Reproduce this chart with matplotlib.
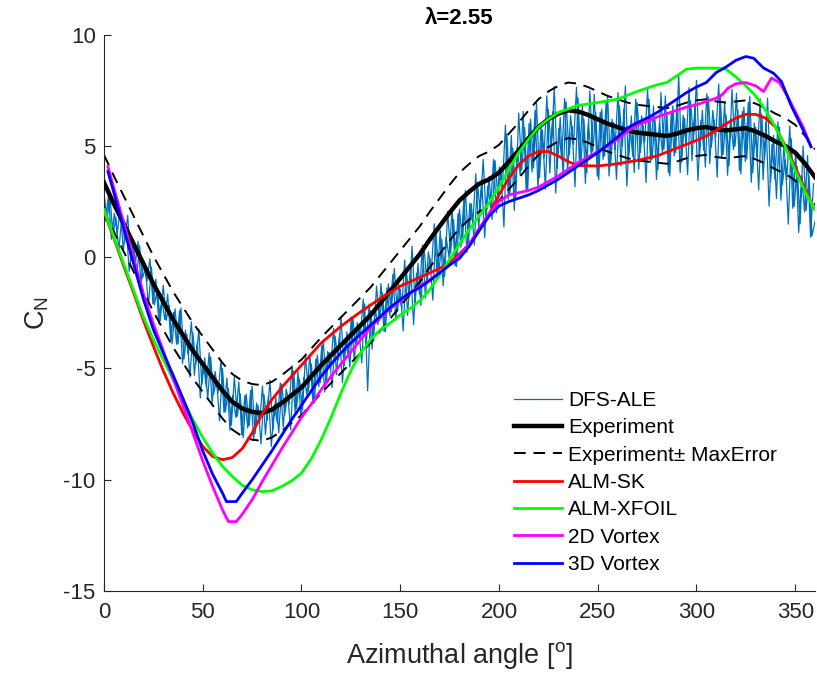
import numpy as np
import matplotlib
matplotlib.use("Agg")
import matplotlib.pyplot as plt

plt.rcParams['font.family'] = ['Liberation Sans', 'DejaVu Sans']
plt.rcParams['mathtext.fontset'] = 'custom'
plt.rcParams['mathtext.rm'] = 'Liberation Sans'
plt.rcParams['mathtext.it'] = 'Liberation Sans:italic'
plt.rcParams['mathtext.bf'] = 'Liberation Sans:bold'
plt.rcParams['axes.unicode_minus'] = False

# ---------------- data ----------------
TITLE = "\u03bb=2.55"
X_LABEL = "Azimuthal angle [$^\\mathrm{o}$]"
Y_LABEL = "C$_\\mathrm{N}$"
X_TICKS = [0, 50, 100, 150, 200, 250, 300, 350]
Y_TICKS = [-15, -10, -5, 0, 5, 10]
LABELS = ["DFS-ALE", "Experiment", "Experiment\u00b1 MaxError", "ALM-SK",
          "ALM-XFOIL", "2D Vortex", "3D Vortex"]

# DFS-ALE (noisy signal): samples at 0, 1.5, 3, ... 360 deg
DFS_ALE = [
    2.94, 1.62, 2.84, 0.94, 1.80, 0.26, 1.84, 0.68, 1.88, -0.20, 0.68, -0.92,
    0.52, -0.92, -0.54, -2.17, -0.44, -2.14, -1.42, -2.86, -1.26, -2.83, -2.16, -3.89,
    -2.32, -3.90, -2.28, -4.57, -3.48, -5.39, -3.40, -4.81, -3.22, -5.73, -4.52, -6.40,
    -4.48, -6.15, -5.50, -7.35, -5.00, -6.95, -5.90, -7.55, -5.36, -7.15, -6.14, -8.11,
    -6.15, -7.58, -5.80, -7.93, -6.66, -8.39, -6.18, -7.35, -5.52, -7.77, -6.28, -7.89,
    -5.70, -7.08, -6.16, -7.74, -5.12, -6.80, -5.48, -6.86, -4.44, -6.02, -4.80, -6.55,
    -4.40, -5.64, -3.72, -5.70, -4.28, -5.86, -3.54, -4.62, -2.70, -4.88, -3.36, -4.94,
    -2.72, -4.10, -3.18, -4.75, -2.10, -6.00, -2.40, -3.75, -1.30, -2.85, -1.60, -3.35,
    -1.20, -2.45, -0.50, -2.45, -1.42, -3.31, -0.52, -1.81, 0.50, -2.11, -0.28, -2.17,
    0.50, -1.15, -0.04, -1.93, 1.22, -0.79, 0.80, -0.85, 2.06, 0.18, 1.68, -0.42,
    2.16, 0.66, 3.00, 0.66, 2.40, 0.54, 3.36, 2.09, 4.40, 1.79, 3.62, 1.70,
    4.34, 2.66, 3.90, 1.36, 5.54, 2.84, 4.90, 2.65, 6.48, 3.91, 5.82, 2.93,
    6.20, 4.01, 6.92, 3.58, 5.72, 3.06, 6.64, 4.75, 7.66, 4.01, 6.28, 3.59,
    6.98, 4.60, 5.88, 3.16, 7.16, 4.28, 6.20, 3.80, 7.48, 4.76, 6.52, 3.48,
    6.65, 4.55, 7.25, 4.10, 6.05, 3.50, 6.80, 5.00, 7.70, 4.25, 6.35, 3.80,
    6.95, 4.70, 5.90, 3.35, 7.10, 4.40, 6.20, 3.95, 7.40, 4.85, 6.50, 3.65,
    6.80, 4.70, 8.20, 4.27, 6.24, 3.71, 7.03, 5.25, 7.95, 4.50, 6.60, 4.05,
    7.20, 4.95, 6.15, 3.60, 7.33, 4.61, 6.39, 4.12, 7.55, 4.98, 6.61, 3.74,
    6.74, 4.42, 7.24, 3.82, 5.84, 3.02, 6.42, 4.39, 7.15, 3.36, 5.48, 2.64,
    5.84, 3.27, 4.38, 1.49, 5.32, 2.28, 4.08, 1.50, 5.00, 2.10, 3.68, 0.95,
    1.60,
]
# DFS-ALE samples in between: 0.75, 2.25, ... 359.25 deg
DFS_ALE_MID = [
    1.64, 2.79, 0.81, 1.97, 1.07, 2.25, 0.30, 1.44, -0.64, 0.56, -0.40, 0.72,
    -1.20, -0.17, -1.08, -0.07, -2.09, -0.98, -2.98, -1.86, -2.80, -1.66, -3.71, -2.47,
    -3.91, -2.39, -4.78, -3.28, -4.39, -2.90, -5.31, -3.82, -6.33, -4.73, -5.81, -4.29,
    -6.57, -5.13, -6.08, -4.63, -6.98, -5.43, -7.78, -6.21, -7.21, -5.60, -7.98, -6.23,
    -7.67, -5.99, -8.22, -6.55, -7.48, -5.79, -7.97, -6.24, -8.50, -6.63, -7.44, -5.65,
    -7.64, -5.92, -6.60, -4.88, -6.96, -5.14, -7.22, -5.40, -6.18, -4.36, -6.53, -4.58,
    -5.82, -3.98, -6.06, -4.24, -5.02, -3.20, -5.28, -3.46, -5.64, -3.72, -4.50, -2.68,
    -4.66, -2.94, -3.62, -1.88, -3.95, -2.10, -4.13, -2.28, -3.03, -1.18, -3.33, -1.38,
    -2.63, -0.78, -2.83, -1.22, -2.31, -0.12, -2.61, -0.42, -3.03, -0.72, -1.65, 0.54,
    -1.83, 0.24, -0.57, 1.50, -0.99, 1.21, -1.28, 0.91, -0.02, 2.19, -0.39, 1.95,
    0.45, 2.67, 0.21, 2.43, 1.53, 3.75, 1.29, 3.49, 0.88, 3.19, 2.24, 4.40,
    2.00, 4.06, 3.19, 5.93, 2.59, 5.47, 2.10, 4.97, 3.68, 6.55, 3.02, 6.01,
    3.83, 6.59, 3.09, 5.85, 4.47, 7.25, 3.78, 6.53, 2.88, 5.79, 4.38, 7.13,
    3.79, 6.36, 5.08, 7.64, 4.12, 6.84, 3.32, 6.04, 4.60, 7.32, 3.64, 6.52,
    4.40, 6.95, 3.65, 6.20, 4.85, 7.40, 4.10, 6.65, 3.20, 5.90, 4.55, 7.10,
    3.95, 6.35, 5.15, 7.55, 4.25, 6.80, 3.50, 6.05, 4.70, 7.25, 3.80, 6.55,
    4.55, 7.10, 3.81, 6.38, 5.05, 7.62, 4.34, 6.90, 3.45, 6.15, 4.80, 7.35,
    4.20, 6.60, 5.40, 7.79, 4.47, 7.00, 3.68, 6.21, 4.84, 7.37, 3.90, 6.55,
    4.30, 6.95, 3.37, 6.03, 4.51, 7.12, 3.49, 6.09, 2.30, 5.06, 3.50, 6.08,
    2.56, 4.95, 3.50, 5.89, 2.20, 4.78, 1.11, 3.65, 2.03, 4.57, 0.90, 3.30,
]

# Experiment (mean), every 5 deg
EXP_X = list(range(0, 361, 5))
EXP_Y = [3.35, 2.4, 1.5, 0.6, -0.3, -1.2, -2.0, -2.8, -3.5, -4.2,
         -4.8, -5.4, -6.0, -6.5, -6.8, -6.95, -7.0, -6.85, -6.55, -6.2,
         -5.85, -5.35, -4.85, -4.4, -3.95, -3.5, -3.05, -2.6, -2.05, -1.5,
         -0.95, -0.4, 0.15, 0.8, 1.4, 2.0, 2.55, 2.95, 3.3, 3.5,
         3.8, 4.3, 4.8, 5.35, 5.85, 6.2, 6.45, 6.6, 6.55, 6.4,
         6.2, 6.0, 5.85, 5.7, 5.6, 5.55, 5.5, 5.45, 5.55, 5.7,
         5.8, 5.85, 5.75, 5.7, 5.75, 5.8, 5.65, 5.45, 5.2, 5.0,
         4.7, 4.2, 3.6]
MAX_ERROR = 1.25

SK_X = [0, 5, 10, 15, 20, 25, 30, 35, 40, 45, 50, 55, 60, 65, 70, 75, 80, 85, 90, 95,
        100, 110, 120, 130, 140, 150, 160, 170, 175, 180, 185, 190, 195, 200, 205, 210,
        215, 220, 225, 230, 235, 240, 250, 260, 270, 280, 290, 300, 305, 310, 315, 320,
        325, 330, 335, 340, 345, 350, 355, 360]
SK_Y = [2.05, 0.85, -0.4, -1.6, -2.85, -4.0, -5.1, -6.1, -7.0, -7.8, -8.5, -8.95, -9.1,
        -9.0, -8.6, -7.9, -7.05, -6.4, -5.85, -5.35, -4.85, -3.85, -3.1, -2.45, -1.85,
        -1.3, -0.9, -0.5, -0.25, 0.15, 0.6, 1.2, 1.95, 2.8, 3.55, 4.15, 4.55, 4.75, 4.75,
        4.55, 4.3, 4.12, 4.1, 4.2, 4.35, 4.55, 4.9, 5.25, 5.45, 5.7, 6.0, 6.25, 6.42,
        6.42, 6.25, 5.85, 5.0, 4.05, 3.05, 2.15]

XF_X = [0, 10, 20, 25, 30, 35, 40, 45, 50, 55, 60, 65, 70, 75, 80, 85, 90, 95, 100, 105,
        110, 115, 120, 125, 130, 135, 140, 145, 150, 155, 160, 165, 170, 175, 180, 185,
        190, 195, 200, 205, 210, 215, 220, 225, 230, 240, 250, 260, 270, 280, 285, 290,
        295, 300, 310, 315, 320, 325, 330, 335, 340, 345, 350, 355, 360]
XF_Y = [2.13, -0.3, -2.7, -3.7, -4.6, -5.5, -6.4, -7.3, -8.1, -8.8, -9.4, -9.85, -10.25,
        -10.45, -10.53, -10.5, -10.3, -10.05, -9.7, -9.05, -8.2, -7.2, -6.1, -5.1, -4.3,
        -3.7, -3.25, -2.95, -2.6, -2.3, -1.95, -1.45, -0.8, -0.1, 0.6, 1.25, 1.85, 2.45,
        3.15, 3.95, 4.7, 5.3, 5.85, 6.2, 6.5, 6.82, 6.95, 7.1, 7.45, 7.75, 7.85, 8.15,
        8.45, 8.5, 8.5, 8.45, 8.1, 7.7, 7.25, 6.6, 5.85, 4.95, 3.9, 2.95, 2.15]

V2D_X = [2, 5, 10, 15, 20, 25, 30, 35, 40, 45, 50, 55, 60, 63, 67, 70, 75, 80, 85, 90,
         95, 100, 105, 110, 115, 120, 125, 130, 135, 140, 145, 150, 155, 160, 165, 170,
         175, 180, 185, 190, 195, 200, 205, 210, 215, 220, 225, 230, 235, 240, 245, 250,
         255, 260, 265, 270, 275, 280, 285, 290, 295, 300, 305, 310, 313, 316, 320, 325,
         330, 334, 338, 342, 346, 350, 354, 358]
V2D_Y = [4.07, 3.1, 1.55, -0.05, -1.65, -3.0, -4.2, -5.45, -6.65, -7.9, -9.15, -10.3,
         -11.35, -11.88, -11.88, -11.55, -10.9, -10.1, -9.35, -8.6, -7.9, -7.2, -6.6,
         -5.95, -5.35, -4.8, -4.25, -3.7, -3.15, -2.7, -2.3, -1.95, -1.6, -1.3, -1.0,
         -0.7, -0.35, 0.05, 0.6, 1.3, 1.95, 2.5, 2.8, 2.9, 3.0, 3.15, 3.4, 3.65, 3.95,
         4.25, 4.5, 4.75, 5.0, 5.3, 5.65, 5.95, 6.1, 6.3, 6.45, 6.6, 6.75, 6.85, 7.0,
         7.15, 7.3, 7.6, 7.8, 7.85, 7.7, 7.45, 8.05, 7.85, 7.25, 6.55, 5.85, 4.97]

V3D_X = [2, 5, 10, 15, 20, 25, 30, 35, 40, 45, 50, 55, 60, 62, 67, 70, 75, 80, 85, 90,
         95, 100, 105, 110, 115, 120, 125, 130, 135, 140, 145, 150, 155, 160, 165, 170,
         175, 180, 185, 190, 195, 200, 205, 210, 215, 220, 225, 230, 235, 240, 245, 250,
         255, 260, 265, 270, 275, 280, 285, 290, 295, 300, 305, 310, 315, 320, 325, 329,
         334, 339, 343, 348, 353, 358]
V3D_Y = [3.85, 2.9, 1.3, -0.3, -1.9, -3.25, -4.3, -5.3, -6.35, -7.45, -8.7, -9.75,
         -10.6, -10.98, -10.98, -10.6, -10.0, -9.35, -8.7, -8.0, -7.3, -6.65, -6.0, -5.35,
         -4.8, -4.3, -3.85, -3.45, -3.05, -2.65, -2.25, -1.9, -1.6, -1.35, -1.05, -0.7,
         -0.35, -0.05, 0.5, 1.2, 1.85, 2.3, 2.5, 2.65, 2.8, 3.0, 3.25, 3.5, 3.8, 4.1, 4.4,
         4.7, 5.05, 5.4, 5.8, 6.05, 6.25, 6.5, 6.8, 7.1, 7.4, 7.65, 7.85, 8.3, 8.55, 8.85,
         9.02, 8.94, 8.5, 8.27, 7.9, 6.8, 5.9, 4.97]

# ---------------- plot ----------------
AX_COLOR = '#262626'
fig = plt.figure(figsize=(8.17, 6.75), dpi=100)
ax = fig.add_axes([0.1273, 0.1244, 0.8702, 0.8242])

dfs_x = np.linspace(0, 360, len(DFS_ALE))
dfs_mid_x = dfs_x[:-1] + (dfs_x[1] - dfs_x[0]) / 2
dfs_all_x = np.concatenate([dfs_x, [np.nan], dfs_mid_x])
dfs_all_y = np.concatenate([DFS_ALE, [np.nan], DFS_ALE_MID])
exp_x = np.array(EXP_X, dtype=float)
exp_y = np.array(EXP_Y)

ax.plot(dfs_all_x, dfs_all_y, color='#0072BD', lw=0.9, label=LABELS[0], zorder=1)
ax.plot(exp_x, exp_y, color='black', lw=3.2, label=LABELS[1], zorder=3)
ax.plot(exp_x, exp_y + MAX_ERROR, color='black', lw=1.4, ls=(0, (6, 4)),
        label=LABELS[2], zorder=2)
ax.plot(exp_x, exp_y - MAX_ERROR, color='black', lw=1.4, ls=(0, (6, 4)),
        label='_nolegend_', zorder=2)
ax.plot(SK_X, SK_Y, color='#FF0000', lw=2.0, label=LABELS[3], zorder=4)
ax.plot(XF_X, XF_Y, color='#00FF00', lw=2.0, label=LABELS[4], zorder=4)
ax.plot(V2D_X, V2D_Y, color='#FF00FF', lw=2.0, label=LABELS[5], zorder=4)
ax.plot(V3D_X, V3D_Y, color='#0000FF', lw=2.0, label=LABELS[6], zorder=4)

ax.set_xlim(0, 360)
ax.set_ylim(-15, 10)
ax.set_xticks(X_TICKS)
ax.set_yticks(Y_TICKS)
ax.tick_params(direction='in', length=5, width=0.8, colors=AX_COLOR, labelsize=16)
ax.tick_params(axis='x', pad=8)
ax.tick_params(axis='y', pad=6)
for s in ['top', 'right']:
    ax.spines[s].set_visible(False)
for s in ['left', 'bottom']:
    ax.spines[s].set_color(AX_COLOR)
    ax.spines[s].set_linewidth(0.8)

ax.set_xlabel(X_LABEL, fontsize=19.5, color=AX_COLOR)
ax.set_ylabel(Y_LABEL, fontsize=19.5, color=AX_COLOR)
ax.xaxis.set_label_coords(0.5, -0.088)
ax.yaxis.set_label_coords(-0.075, 0.5)
ax.set_title(TITLE, fontsize=16, fontweight='bold', pad=8)

leg = ax.legend(loc='upper left', bbox_to_anchor=(514 / 817, 1 - 391 / 675),
                bbox_transform=fig.transFigure, frameon=False, fontsize=15,
                handlelength=2.3, handletextpad=0.3, labelspacing=0.4,
                borderpad=0, borderaxespad=0)

fig.savefig('out.png', dpi=100)
